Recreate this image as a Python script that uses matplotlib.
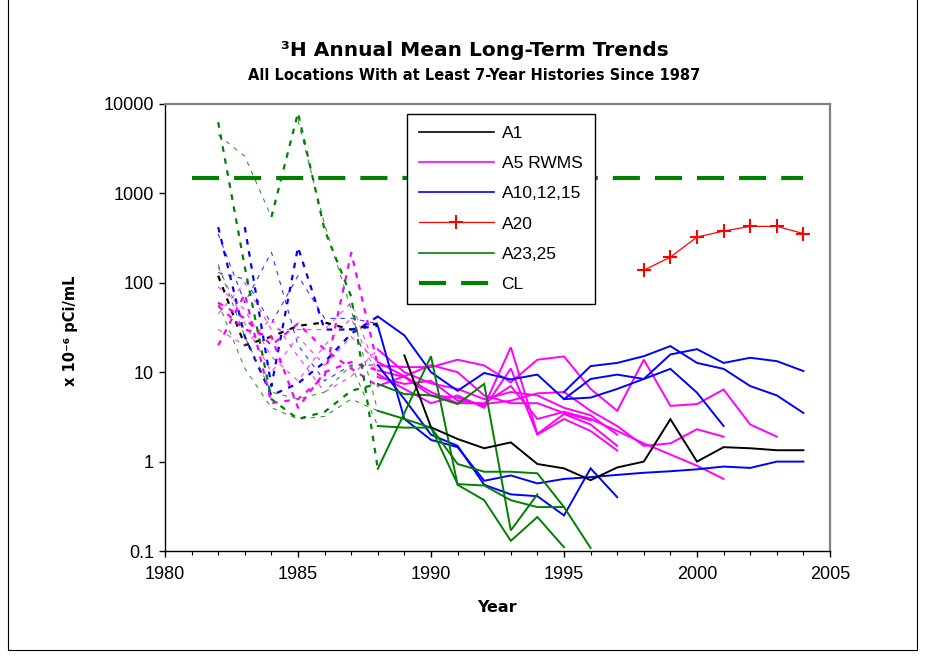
import matplotlib
matplotlib.use("Agg")
import matplotlib.pyplot as plt
from matplotlib.lines import Line2D
from matplotlib.patches import Rectangle
from matplotlib.ticker import FixedLocator, MultipleLocator, NullLocator

plt.rcParams['font.family'] = ['Liberation Sans', 'DejaVu Sans']

# ---------------- data ----------------
# A1 (black)
a1_pre_years = [1982, 1983, 1984, 1985, 1986, 1987, 1988]
a1_pre_vals = [120, 20, 25, 33, 36, 30, 35]
a1_years = [1989, 1990, 1991, 1992, 1993, 1994, 1995, 1996, 1997, 1998, 1999, 2000, 2001, 2002, 2003, 2004]
a1_vals = [15.4, 2.42, 1.79, 1.41, 1.64, 0.94, 0.84, 0.62, 0.86, 1.0, 2.98, 1.0, 1.45, 1.41, 1.34, 1.34]

# A20 (red, +)
a20_years = [1998, 1999, 2000, 2001, 2002, 2003, 2004]
a20_vals = [138, 194, 325, 379, 428, 428, 355]

# CL (concentration limit)
cl_years = [1981, 2004]
cl_vals = [1500, 1500]

# A10,12,15 (blue) - solid part
b1_years = [1988, 1989, 1990, 1991, 1992, 1993, 1994, 1995, 1996, 1997, 1998, 1999, 2000, 2001]
b1_vals = [42, 25.8, 10, 6.2, 9.8, 8.3, 9.4, 5.0, 8.4, 9.4, 8.4, 10.9, 5.9, 2.5]
b2_years = [1988, 1989, 1990, 1991, 1992, 1993, 1994, 1995, 1996, 1997, 1998, 1999, 2000, 2001, 2002, 2003, 2004]
b2_vals = [33, 3.0, 1.75, 1.45, 0.61, 0.70, 0.57, 0.64, 0.67, 0.71, 0.75, 0.78, 0.82, 0.88, 0.85, 1.0, 1.0]
b3_years = [1988, 1989, 1990, 1991, 1992, 1993, 1994, 1995, 1996, 1997]
b3_vals = [12, 5.0, 2.0, 1.5, 0.55, 0.43, 0.41, 0.25, 0.84, 0.40]
b4_years = [1995, 1996, 1997, 1998, 1999, 2000, 2001, 2002, 2003, 2004]
b4_vals = [6.0, 11.7, 12.7, 15.1, 19.6, 12.7, 10.9, 7.0, 5.5, 3.5]
b5_years = [1995, 1996, 1997, 1998, 1999, 2000, 2001, 2002, 2003, 2004]
b5_vals = [5.0, 5.2, 6.5, 8.4, 15.8, 18.1, 12.7, 14.5, 13.3, 10.3]
# blue - pre-1988 dashed part
bd1_years = [1982, 1983, 1984, 1985, 1986, 1987, 1988]
bd1_vals = [420, 25, 5.5, 7.5, 13, 27, 42]
bd2_years = [1983, 1984, 1985, 1986, 1987, 1988]
bd2_vals = [420, 7, 250, 30, 30, 33]
bd3_years = [1982, 1983, 1984, 1985, 1986, 1987, 1988]
bd3_vals = [350, 60, 220, 20, 8, 12, 12]
bd4_years = [1982, 1983, 1984, 1985, 1986, 1987, 1988]
bd4_vals = [130, 110, 35, 120, 40, 40, 35]

# A5 RWMS (magenta) - solid part
m1_years = [1988, 1989, 1990, 1991, 1992, 1993, 1994, 1995, 1996, 1997, 1998, 1999, 2000, 2001, 2002, 2003]
m1_vals = [11.9, 11.4, 11.4, 13.8, 11.9, 7.7, 13.8, 15.0, 6.5, 3.7, 13.8, 4.2, 4.4, 6.4, 2.6, 1.9]
m2_years = [1988, 1989, 1990, 1991, 1992, 1993, 1994, 1995, 1996, 1997]
m2_vals = [10.5, 8.8, 5.5, 5.2, 4.2, 19, 2.04, 3.4, 2.6, 1.5]
m3_years = [1988, 1989, 1990, 1991, 1992, 1993, 1994, 1995, 1996, 1997, 1998, 1999, 2000, 2001]
m3_vals = [8.8, 7.4, 8.0, 4.8, 4.4, 4.8, 5.8, 6.0, 3.7, 2.5, 1.5, 1.6, 2.3, 1.9]
m4_years = [1988, 1989, 1990, 1991, 1992, 1993, 1994, 1995, 1996, 1997, 1998, 1999, 2000, 2001]
m4_vals = [13, 9.0, 6.0, 4.5, 4.5, 7.0, 3.0, 3.6, 3.0, 2.2, 1.6, 1.2, 0.9, 0.64]
m5_years = [1988, 1989, 1990, 1991, 1992, 1993, 1994, 1995, 1996, 1997]
m5_vals = [9.5, 6.5, 4.5, 5.5, 4.0, 11, 2.0, 3.0, 2.2, 1.33]
m6_years = [1988, 1989, 1990, 1991, 1992, 1993, 1994, 1995, 1996, 1997]
m6_vals = [18, 10, 7.5, 6.5, 5.0, 6.0, 5.5, 4.0, 3.3, 2.0]
m7_years = [1988, 1989, 1990, 1991, 1992, 1993, 1994, 1995, 1996]
m7_vals = [7.0, 9.0, 12, 10, 5.5, 4.5, 4.5, 3.5, 2.9]
# magenta - pre-1988 dashed part
md_years = [1982, 1983, 1984, 1985, 1986, 1987, 1988]
md1_vals = [20, 75, 4.5, 5, 9, 217, 11.9]
md2_vals = [55, 30, 25, 4, 10, 13, 10.5]
md3_vals = [90, 50, 15, 8, 20, 40, 8.8]
md4_vals = [150, 35, 10, 25, 12, 25, 13]
md5_vals = [45, 100, 30, 30, 30, 60, 9.5]
md6_vals = [30, 20, 40, 15, 6, 9, 18]
md7_vals = [60, 40, 20, 35, 18, 11, 7.0]

# A23,25 (green) - solid part
g1_years = [1988, 1989, 1990, 1991, 1992, 1993, 1994, 1995]
g1_vals = [0.83, 3.5, 15.1, 0.55, 0.37, 0.13, 0.24, 0.11]
g2_years = [1988, 1989, 1990, 1991, 1992, 1993, 1994]
g2_vals = [7.4, 5.7, 5.5, 4.4, 7.4, 0.17, 0.43]
g3_years = [1988, 1989, 1990, 1991, 1992, 1993, 1994, 1995, 1996]
g3_vals = [3.7, 3.0, 2.4, 0.94, 0.77, 0.77, 0.74, 0.31, 0.108]
g4_years = [1988, 1989, 1990, 1991, 1992, 1993, 1994, 1995]
g4_vals = [2.5, 2.4, 2.4, 0.56, 0.54, 0.37, 0.31, 0.31]
# green - pre-1988 dashed part
gd1_years = [1982, 1983, 1984, 1985, 1986, 1987, 1988]
gd1_vals = [6250, 150, 5.0, 3.0, 3.6, 6.2, 7.4]
gd2_years = [1984, 1985, 1986, 1987, 1988]
gd2_vals = [545, 7950, 390, 70, 0.83]
gd3_years = [1982, 1983, 1984]
gd3_vals = [4500, 2600, 545]
gd4_years = [1985, 1986, 1987, 1988]
gd4_vals = [6500, 450, 50, 3.7]
gd5_years = [1982, 1983, 1984, 1985, 1986, 1987, 1988]
gd5_vals = [160, 25, 6, 5, 6, 12, 2.5]
gd6_years = [1982, 1983, 1984, 1985, 1986, 1987, 1988]
gd6_vals = [60, 11, 4, 3, 3.2, 5, 3.7]

legend_labels = ['A1', 'A5 RWMS', 'A10,12,15', 'A20', 'A23,25', 'CL']

BLACK = '#000000'
MAG = '#FF00FF'
BLUE = '#0000FF'
RED = '#FF0000'
GREEN = '#008000'

# ---------------- figure ----------------
W, H = 936, 660
fig = plt.figure(figsize=(W / 100, H / 100), dpi=100)
L, R, T, B = 165, 830, 104, 551
ax = fig.add_axes([L / W, 1 - B / H, (R - L) / W, (B - T) / H])

SOLID = dict(lw=1.4, solid_joinstyle='miter')
THICK = dict(lw=1.6, ls=(0, (2.5, 3.0)))
THIN = dict(lw=0.8, ls=(0, (4.0, 5.0)), alpha=0.8)

# pre-1988 dashed segments
ax.plot(a1_pre_years, a1_pre_vals, color=BLACK, **THICK)
for ys, vs, st in [(bd1_years, bd1_vals, THICK), (bd2_years, bd2_vals, THICK),
                   (bd3_years, bd3_vals, THIN), (bd4_years, bd4_vals, THIN)]:
    ax.plot(ys, vs, color=BLUE, **st)
for vs, st in [(md1_vals, THICK), (md2_vals, THICK), (md3_vals, THIN), (md4_vals, THIN),
               (md5_vals, THIN), (md6_vals, THIN), (md7_vals, THICK)]:
    ax.plot(md_years, vs, color=MAG, **st)
for ys, vs, st in [(gd1_years, gd1_vals, THICK), (gd2_years, gd2_vals, THICK),
                   (gd3_years, gd3_vals, THIN), (gd4_years, gd4_vals, THIN),
                   (gd5_years, gd5_vals, THIN), (gd6_years, gd6_vals, THIN)]:
    ax.plot(ys, vs, color=GREEN, **st)

# solid segments
for ys, vs in [(m1_years, m1_vals), (m2_years, m2_vals), (m3_years, m3_vals), (m4_years, m4_vals),
               (m5_years, m5_vals), (m6_years, m6_vals), (m7_years, m7_vals)]:
    ax.plot(ys, vs, color=MAG, **SOLID)
for ys, vs in [(b1_years, b1_vals), (b2_years, b2_vals), (b3_years, b3_vals),
               (b4_years, b4_vals), (b5_years, b5_vals)]:
    ax.plot(ys, vs, color=BLUE, **SOLID)
for ys, vs in [(g1_years, g1_vals), (g2_years, g2_vals), (g3_years, g3_vals), (g4_years, g4_vals)]:
    ax.plot(ys, vs, color=GREEN, **SOLID)
ax.plot(a1_years, a1_vals, color=BLACK, **SOLID)
ax.plot(a20_years, a20_vals, color=RED, lw=0.9, marker='+', markersize=10, mew=1.5)

CLSTYLE = dict(color=GREEN, lw=3.0, ls=(0, (6.5, 3.6)))
ax.plot(cl_years, cl_vals, **CLSTYLE)

# axes
ax.set_yscale('log')
ax.set_ylim(0.1, 10000)
ax.set_xlim(1980, 2005)
yt = [0.1, 1, 10, 100, 1000, 10000]
ax.yaxis.set_major_locator(FixedLocator(yt))
ax.yaxis.set_minor_locator(NullLocator())
ax.set_yticklabels(['0.1', '1', '10', '100', '1000', '10000'])
ax.xaxis.set_major_locator(MultipleLocator(5))
ax.xaxis.set_minor_locator(MultipleLocator(1))
ax.tick_params(axis='x', which='major', direction='out', length=4, width=1, labelsize=13, pad=7)
ax.tick_params(axis='x', which='minor', direction='out', length=3, width=0.8)
ax.tick_params(axis='y', which='major', direction='out', length=4, width=1, labelsize=13, pad=4)
for s in ['left', 'bottom']:
    ax.spines[s].set_color('black')
    ax.spines[s].set_linewidth(1.0)
for s in ['top', 'right']:
    ax.spines[s].set_color('#808080')
    ax.spines[s].set_linewidth(1.6)

# legend
handles = [Line2D([], [], color=BLACK, lw=1.2),
           Line2D([], [], color=MAG, lw=1.2),
           Line2D([], [], color=BLUE, lw=1.2),
           Line2D([], [], color=RED, lw=0.9, marker='+', markersize=10, mew=1.5),
           Line2D([], [], color=GREEN, lw=1.2),
           Line2D([], [], **CLSTYLE)]
leg = ax.legend(handles, legend_labels, loc='upper left',
                bbox_to_anchor=(407 / W, 1 - 114 / H), bbox_transform=fig.transFigure,
                fontsize=12.5, handlelength=4.3, handletextpad=0.45, labelspacing=0.86,
                borderpad=0.7, borderaxespad=0, fancybox=False, framealpha=1,
                edgecolor='black', facecolor='white')
leg.get_frame().set_linewidth(1.0)
leg.set_zorder(10)

# titles and labels
fig.text(475 / W, 1 - 50 / H, '³H Annual Mean Long-Term Trends', ha='center', va='center',
         fontsize=14.5, fontweight='bold', family=['DejaVu Sans'])
fig.text(474 / W, 1 - 76 / H, 'All Locations With at Least 7-Year Histories Since 1987',
         ha='center', va='center', fontsize=10.5, fontweight='bold', family=['DejaVu Sans'])
fig.text(70 / W, 1 - 331 / H, 'x 10⁻⁶ pCi/mL', rotation=90, ha='center', va='center',
         fontsize=10.5, fontweight='bold', family=['DejaVu Sans'])
fig.text(497 / W, 1 - 608 / H, 'Year', ha='center', va='center',
         fontsize=11.5, fontweight='bold', family=['DejaVu Sans'])

# outer chart frame
fig.add_artist(Rectangle((8 / W, 10 / H), (917 - 8) / W, (H + 20) / H, fill=False,
                         edgecolor='black', lw=0.8, transform=fig.transFigure))

fig.savefig('out.png', dpi=100)
